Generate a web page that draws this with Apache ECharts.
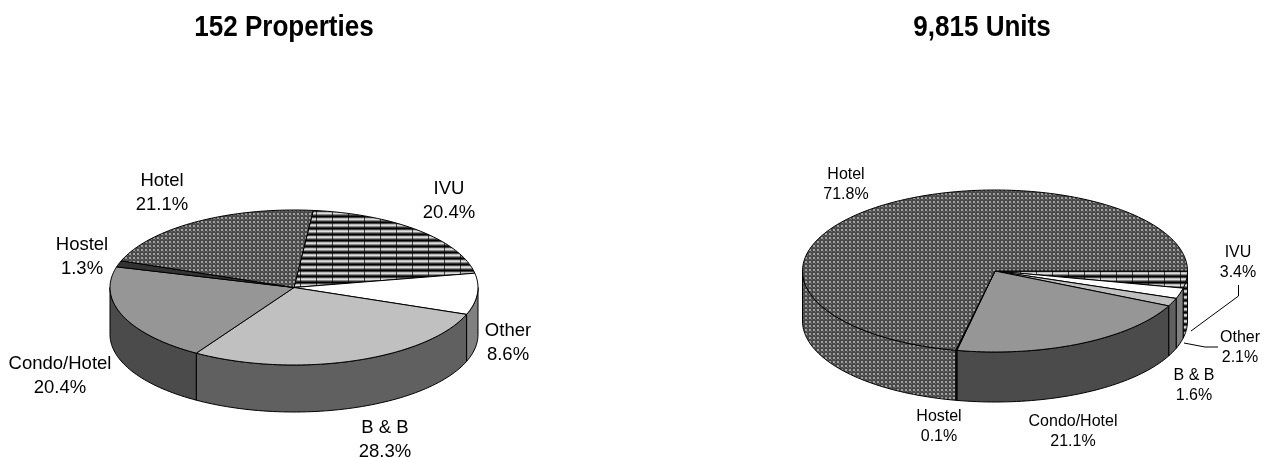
<!DOCTYPE html>
<html><head><meta charset="utf-8">
<style>html,body{margin:0;padding:0;background:#fff}#c{width:1265px;height:458px}</style>
<script src="https://cdn.jsdelivr.net/npm/echarts@6/dist/echarts.min.js"></script>
</head><body><div id="c"></div>
<script>
const categories = ['IVU','Other','B & B','Condo/Hotel','Hostel','Hotel'];
const propertyShares = [20.4,8.6,28.3,20.4,1.3,21.1];
const unitShares = [3.4,2.1,1.6,21.1,0.1,71.8];
const titles = ['152 Properties','9,815 Units'];

function tile(w,h,draw){const c=document.createElement('canvas');c.width=w;c.height=h;const g=c.getContext('2d');draw(g);return {image:c,repeat:'repeat'};}
const hatch = tile(16,6,g=>{
  const rows=['#000','#444','#bbb','#ddd','#888','#333'];
  rows.forEach((r,i)=>{g.fillStyle=r;g.fillRect(0,i,16,1);});
  g.fillStyle='rgba(0,0,0,.7)';g.fillRect(12,0,1,6);
});
const dots = tile(4,4,g=>{
  g.fillStyle='#4a4a4a';g.fillRect(0,0,4,4);
  g.fillStyle='#a0a0a0';g.fillRect(1,1,2,2);
  g.fillStyle='#6e6e6e';g.fillRect(3,3,1,1);
});
const topFill = [hatch,'#fff','#c0c0c0','#969696','#333333',dots];
const sideFill = [hatch,'#808080','#606060','#4b4b4b','#222222',dots];

const pies = [
 {values:propertyShares,cx:294,cy:287.5,rx:184,ry:77.5,depth:47,start:6,font:18.5,lh:24,
  labels:[[449,201],[508,343],[385,440],[60,376],[82,257],[162,193]]},
 {values:unitShares,cx:995,cy:271,rx:192.5,ry:81,depth:50,start:90,font:16,lh:19.5,
  labels:[[1238,262.5],[1240,347.5],[1194,385.5],[1073,431.5],[939,426.5],[846,184.5]],
  leaders:{0:[[1238.5,285],[1238.5,296],[1191,331]],1:[[1184,343],[1205,347],[1218,347]]}}
];

function slices(p){
  const total=p.values.reduce((a,b)=>a+b,0);let acc=p.start;
  return p.values.map(v=>{const a=acc;acc+=v/total*360;return [a,acc];});
}
function pt(p,deg,dy){const t=deg*Math.PI/180;return [p.cx+p.rx*Math.sin(t),p.cy-p.ry*Math.cos(t)+(dy||0)];}
function arc(p,a,b,dy){const n=Math.max(2,Math.ceil((b-a)/1.5));const r=[];for(let i=0;i<=n;i++)r.push(pt(p,a+(b-a)*i/n,dy));return r;}
function visibleSide(a,b){
  for(const k of [0,360]){const s=Math.max(a,90+k),e=Math.min(b,270+k);if(e>s)return [s,e];}
  return null;
}
function pieSeries(p){
  const sl=slices(p);
  return {type:'custom',coordinateSystem:'none',silent:true,clip:false,
    data:p.values.map((v,i)=>[i,v]),
    renderItem(params,api){
      const i=api.value(0),[a,b]=sl[i],children=[];
      const line={stroke:'#000',lineWidth:1,lineJoin:'round'};
      const vs=visibleSide(a,b);
      if(vs){
        const up=arc(p,vs[0],vs[1],0),down=arc(p,vs[0],vs[1],p.depth).reverse();
        children.push({type:'polygon',z2:1,shape:{points:up.concat(down)},style:{fill:sideFill[i],...line}});
      }
      children.push({type:'polygon',z2:2,shape:{points:[[p.cx,p.cy]].concat(arc(p,a,b,0))},style:{fill:topFill[i],...line}});
      const [lx,ly]=p.labels[i];
      children.push({type:'text',z2:5,style:{x:lx,y:ly,text:categories[i]+'\n'+p.values[i].toFixed(1)+'%',
        fill:'#000',font:p.font+'px "Liberation Sans", Arial, sans-serif',lineHeight:p.lh,align:'center',verticalAlign:'middle'}});
      if(p.leaders&&p.leaders[i])children.push({type:'polyline',z2:4,shape:{points:p.leaders[i]},style:{fill:'none',stroke:'#000',lineWidth:1}});
      return {type:'group',children};
    }};
}
const titleStyle=t=>({text:t,fill:'#000',font:'bold 30px "Liberation Sans", Arial, sans-serif',align:'center',verticalAlign:'middle'});
const chart=echarts.init(document.getElementById('c'),null,{renderer:'canvas'});
chart.setOption({animation:false,backgroundColor:'#fff',
  graphic:[{type:'text',x:284,y:28,scaleX:.868,style:titleStyle(titles[0])},{type:'text',x:982,y:28,scaleX:.868,style:titleStyle(titles[1])}],
  series:pies.map(pieSeries)});
</script></body></html>
